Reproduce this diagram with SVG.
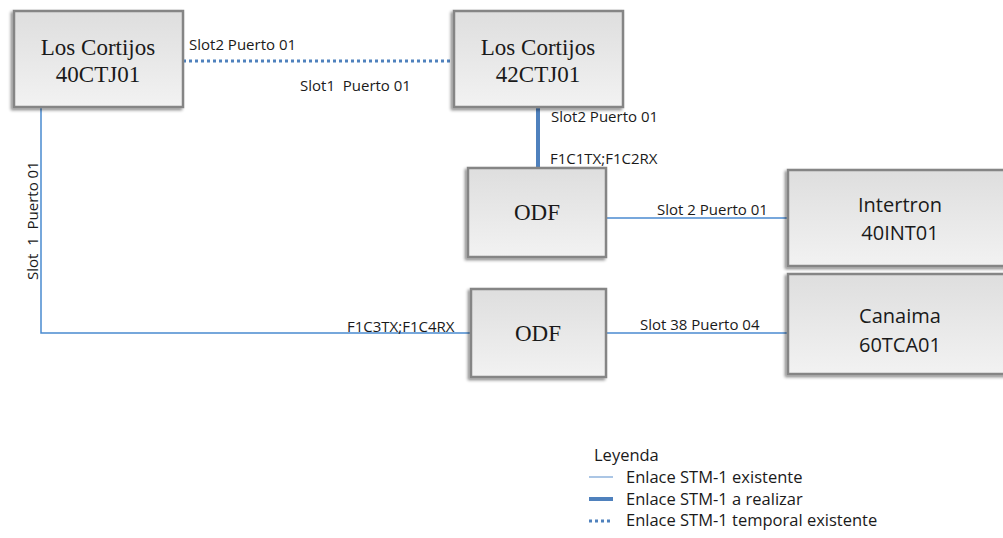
<svg xmlns="http://www.w3.org/2000/svg" width="1003" height="538" viewBox="0 0 1003 538">
<defs>
<linearGradient id="g" x1="0" y1="0" x2="0" y2="1">
<stop offset="0" stop-color="#dedede"/>
<stop offset="1" stop-color="#f2f2f2"/>
</linearGradient>
<filter id="sh" x="-10%" y="-10%" width="120%" height="120%">
<feDropShadow dx="-2" dy="2" stdDeviation="1.5" flood-color="#000" flood-opacity="0.45"/>
</filter>
<style>
.box{fill:url(#g);stroke:#858585;stroke-width:2.5;filter:url(#sh)}
.serif{font-family:"Liberation Serif","DejaVu Serif",serif;font-size:23px;fill:#1a1a1a;text-anchor:middle}
.sans{font-family:"Open Sans","Liberation Sans",sans-serif;font-size:20px;fill:#1a1a1a;text-anchor:middle}
.lbl{font-family:"Open Sans","Liberation Sans",sans-serif;font-size:15px;fill:#1a1a1a}
.leg{font-family:"Open Sans","Liberation Sans",sans-serif;font-size:16.5px;fill:#1a1a1a}
.thin{stroke:#4a8ad0;stroke-width:1.5;fill:none}
.thick{stroke:#4f81bd;stroke-width:4;fill:none}
.dot{stroke:#4f81bd;stroke-width:3;stroke-dasharray:3 3;fill:none}
</style>
</defs>
<g id="connectors">
<line class="dot" x1="183" y1="61" x2="453" y2="61"/>
<line class="thick" x1="538" y1="107" x2="538" y2="167"/>
<line class="thin" x1="606" y1="218" x2="787" y2="218"/>
<polyline class="thin" points="41,107 41,333 470,333"/>
<line class="thin" x1="606" y1="333" x2="787" y2="333"/>
<text class="lbl" x="189" y="50">Slot2 Puerto 01</text>
<text class="lbl" x="300" y="91" xml:space="preserve">Slot1  Puerto 01</text>
<text class="lbl" x="551" y="122">Slot2 Puerto 01</text>
<text class="lbl" x="550" y="164">F1C1TX;F1C2RX</text>
<text class="lbl" x="657" y="215">Slot 2 Puerto 01</text>
<text class="lbl" x="347" y="332">F1C3TX;F1C4RX</text>
<text class="lbl" x="640" y="330">Slot 38 Puerto 04</text>
<text class="lbl" transform="translate(38,280) rotate(-90)" xml:space="preserve">Slot  1  Puerto 01</text>
</g>
<g id="n-40CTJ01">
<rect class="box" x="14" y="11" width="169" height="96"/>
<text class="serif" x="98" y="55">Los Cortijos</text>
<text class="serif" x="98" y="82">40CTJ01</text>
</g>
<g id="n-42CTJ01">
<rect class="box" x="454" y="11" width="169" height="96"/>
<text class="serif" x="538" y="55">Los Cortijos</text>
<text class="serif" x="538" y="82">42CTJ01</text>
</g>
<g id="n-odf1">
<rect class="box" x="468" y="168" width="138" height="89"/>
<text class="serif" x="537" y="220">ODF</text>
</g>
<g id="n-odf2">
<rect class="box" x="471" y="289" width="135" height="88"/>
<text class="serif" x="538" y="341">ODF</text>
</g>
<g id="n-40INT01">
<rect class="box" x="788" y="170" width="225" height="96"/>
<text class="sans" x="900" y="212">Intertron</text>
<text class="sans" x="900" y="240">40INT01</text>
</g>
<g id="n-60TCA01">
<rect class="box" x="788" y="274" width="225" height="100"/>
<text class="sans" x="900" y="323">Canaima</text>
<text class="sans" x="900" y="352">60TCA01</text>
</g>
<g id="legend">
<text class="leg" x="594" y="461">Leyenda</text>
<line x1="589" y1="477" x2="613" y2="477" stroke="#8fb3dc" stroke-width="1.5"/>
<line x1="589" y1="499" x2="613" y2="499" stroke="#4f81bd" stroke-width="4"/>
<line x1="589" y1="521" x2="613" y2="521" stroke="#4f81bd" stroke-width="3" stroke-dasharray="3 3"/>
<text class="leg" x="626" y="483">Enlace STM-1 existente</text>
<text class="leg" x="626" y="504.5">Enlace STM-1 a realizar</text>
<text class="leg" x="626" y="526">Enlace STM-1 temporal existente</text>
</g>
</svg>
